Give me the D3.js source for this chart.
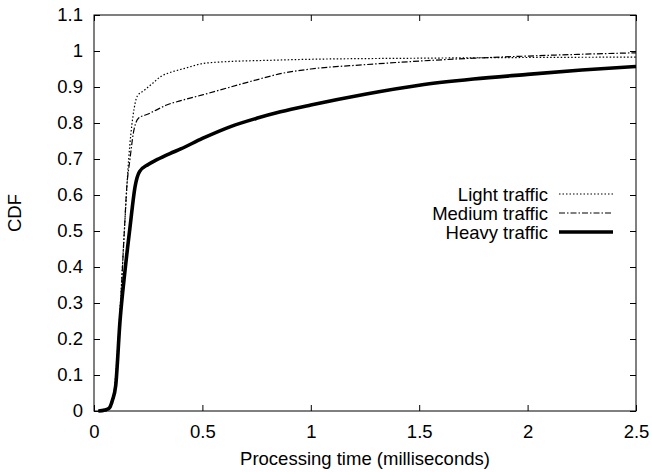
<!doctype html>
<html>
  <head>
    <meta charset="utf-8">
    <title>Processing time CDF</title>
    <script src="https://cdnjs.cloudflare.com/ajax/libs/d3/7.8.5/d3.min.js"></script>
    <style>
      body { margin: 0; background: #fff; }
      text { font-family: "Liberation Sans", Arial, Helvetica, sans-serif; font-size: 18.5px; fill: #000; }
    </style>
  </head>
  <body>
    <div id="chart"></div>
    <script>
      // data (x in milliseconds, y = CDF)
      const lightX = [0.02, 0.05, 0.07, 0.085, 0.1, 0.12, 0.14, 0.16, 0.18, 0.2, 0.23, 0.27, 0.31, 0.35, 0.42, 0.5, 0.6, 0.8, 1.0, 1.5, 2.0, 2.5];
      const lightY = [0, 0, 0.005, 0.02, 0.1, 0.28, 0.5, 0.7, 0.82, 0.875, 0.89, 0.91, 0.93, 0.94, 0.952, 0.965, 0.97, 0.974, 0.977, 0.98, 0.982, 0.983];

      const mediumX = [0.02, 0.05, 0.07, 0.085, 0.1, 0.12, 0.14, 0.151, 0.166, 0.181, 0.205, 0.25, 0.3, 0.335, 0.4, 0.5, 0.63, 0.75, 0.86, 1.0, 1.25, 1.5, 1.75, 2.0, 2.25, 2.5];
      const mediumY = [0, 0.003, 0.008, 0.03, 0.08, 0.27, 0.5, 0.62, 0.70, 0.77, 0.813, 0.825, 0.84, 0.85, 0.862, 0.878, 0.9, 0.92, 0.937, 0.95, 0.962, 0.972, 0.98, 0.986, 0.991, 0.995];

      const heavyX = [0.02, 0.05, 0.07, 0.085, 0.1, 0.12, 0.143, 0.166, 0.19, 0.21, 0.25, 0.29, 0.35, 0.4, 0.5, 0.63, 0.75, 0.86, 1.0, 1.25, 1.5, 1.75, 2.0, 2.25, 2.5];
      const heavyY = [0, 0.003, 0.008, 0.03, 0.07, 0.25, 0.39, 0.51, 0.625, 0.665, 0.685, 0.698, 0.715, 0.728, 0.757, 0.79, 0.813, 0.831, 0.85, 0.88, 0.905, 0.922, 0.935, 0.947, 0.957];

      const seriesNames = ['Light traffic', 'Medium traffic', 'Heavy traffic'];
      const xTicks = [0, 0.5, 1, 1.5, 2, 2.5];
      const yTicks = [0, 0.1, 0.2, 0.3, 0.4, 0.5, 0.6, 0.7, 0.8, 0.9, 1, 1.1];

      const width = 652, height = 472;
      const margin = {top: 15, right: 16, bottom: 61, left: 94};

      const svg = d3.select('#chart').append('svg')
        .attr('width', width)
        .attr('height', height);

      const x = d3.scaleLinear().domain([0, 2.5]).range([margin.left, width - margin.right]);
      const y = d3.scaleLinear().domain([0, 1.1]).range([height - margin.bottom, margin.top]);

      const styles = [
        {width: 1.2, dash: '1.5,2'},
        {width: 1.2, dash: '6,2,1.5,2'},
        {width: 3.6, dash: null}
      ];

      const series = [
        d3.zip(lightX, lightY),
        d3.zip(mediumX, mediumY),
        d3.zip(heavyX, heavyY)
      ];

      // axes with inward ticks, mirrored on top/right (gnuplot style)
      const tickLen = 6;
      svg.append('g')
        .attr('transform', `translate(0,${y(0)})`)
        .call(d3.axisBottom(x).tickValues(xTicks).tickSize(-tickLen).tickPadding(14).tickFormat(d3.format('')))
        .call(g => g.select('.domain').remove());
      svg.append('g')
        .attr('transform', `translate(0,${y(1.1)})`)
        .call(d3.axisTop(x).tickValues(xTicks).tickSize(-tickLen).tickFormat(''))
        .call(g => g.select('.domain').remove());
      svg.append('g')
        .attr('transform', `translate(${x(0)},0)`)
        .call(d3.axisLeft(y).tickValues(yTicks).tickSize(-tickLen).tickPadding(11).tickFormat(d3.format('')))
        .call(g => g.select('.domain').remove());
      svg.append('g')
        .attr('transform', `translate(${x(2.5)},0)`)
        .call(d3.axisRight(y).tickValues(yTicks).tickSize(-tickLen).tickFormat(''))
        .call(g => g.select('.domain').remove());

      svg.selectAll('.tick line').attr('stroke', '#000');
      svg.selectAll('.tick text').style('font-size', '18.5px').attr('fill', '#000');

      // frame
      svg.append('rect')
        .attr('x', x(0)).attr('y', y(1.1))
        .attr('width', x(2.5) - x(0)).attr('height', y(0) - y(1.1))
        .attr('fill', 'none').attr('stroke', '#000').attr('stroke-width', 1);

      const line = d3.line()
        .x(d => x(d[0]))
        .y(d => y(d[1]))
        .curve(d3.curveMonotoneX);

      svg.append('g').selectAll('path')
        .data(series)
        .join('path')
        .attr('d', line)
        .attr('fill', 'none')
        .attr('stroke', '#000')
        .attr('stroke-width', (d, i) => styles[i].width)
        .attr('stroke-dasharray', (d, i) => styles[i].dash);

      // legend
      const legend = svg.append('g');
      seriesNames.forEach((name, i) => {
        const ly = 194 + i * 19;
        legend.append('text')
          .attr('x', 548).attr('y', ly + 6.5)
          .attr('text-anchor', 'end')
          .text(name);
        legend.append('line')
          .attr('x1', 559).attr('x2', 613)
          .attr('y1', ly).attr('y2', ly)
          .attr('stroke', '#000')
          .attr('stroke-width', styles[i].width)
          .attr('stroke-dasharray', styles[i].dash);
      });

      // axis titles
      svg.append('text')
        .attr('x', (x(0) + x(2.5)) / 2)
        .attr('y', 465)
        .attr('text-anchor', 'middle')
        .text('Processing time (milliseconds)');

      svg.append('text')
        .attr('transform', `translate(21,${(y(0) + y(1.1)) / 2}) rotate(-90)`)
        .attr('text-anchor', 'middle')
        .text('CDF');
    </script>
  </body>
</html>
